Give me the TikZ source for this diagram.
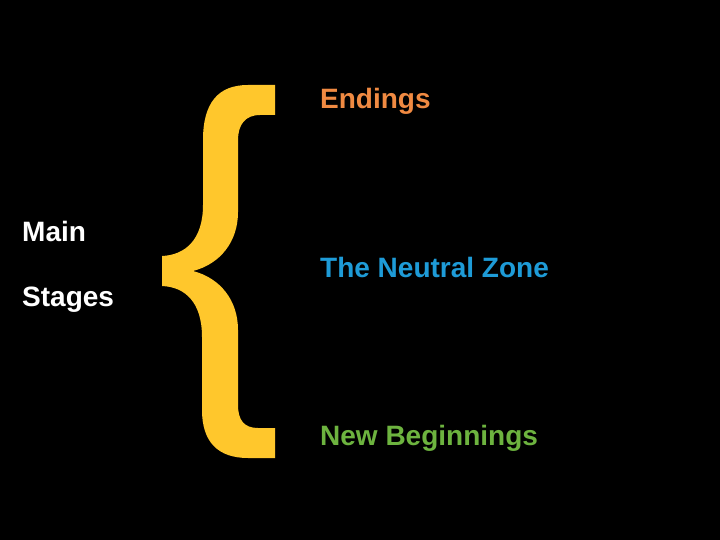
\documentclass[tikz,border=0pt]{standalone}
\usepackage{fontspec}
\setmainfont{Liberation Sans}
\usepackage{xcolor}
\usepackage{tikz}
\usetikzlibrary{positioning}
\definecolor{braceYellow}{HTML}{FFC72C}
\definecolor{stageOrange}{HTML}{F08A42}
\definecolor{stageBlue}{HTML}{1E9BD7}
\definecolor{stageGreen}{HTML}{6DB33F}

\begin{document}
\begin{tikzpicture}[
    x=1pt, y=-1pt,
    label/.style={anchor=base west, inner sep=0pt,
                  font=\fontsize{28}{34}\selectfont\bfseries},
]
% black page
\fill[black] (0,0) rectangle (720,540);
\useasboundingbox (0,0) rectangle (720,540);

% the brace
\fill[braceYellow] (275,85) -- (248,85)
    .. controls (218,85) and (203,103) .. (203,140) -- (203,205)
    .. controls (203,240) and (185,255) .. (162,256) -- (162,286)
    .. controls (185,287) and (202,302) .. (202,337) -- (202,410)
    .. controls (202,442) and (218,458) .. (248,458) -- (275,458)
    -- (275,428) -- (258,428)
    .. controls (244,428) and (238,420) .. (238,405) -- (238,330)
    .. controls (238,300) and (220,278) .. (193,271)
    .. controls (220,264) and (238,242) .. (238,212) -- (238,140)
    .. controls (238,125) and (245,115) .. (260,115) -- (275,115) -- cycle;

\node[label, text=white] (main) at (22,241) {Main};
\node[label, text=white] (stages) at (22,306) {Stages};

\node[label, text=stageOrange] (endings) at (320,109) {Endings};
\node[label, text=stageBlue] (neutral) at (320,277) {The Neutral Zone};
\node[label, text=stageGreen] (beginnings) at (320,445) {New Beginnings};
\end{tikzpicture}
\end{document}
